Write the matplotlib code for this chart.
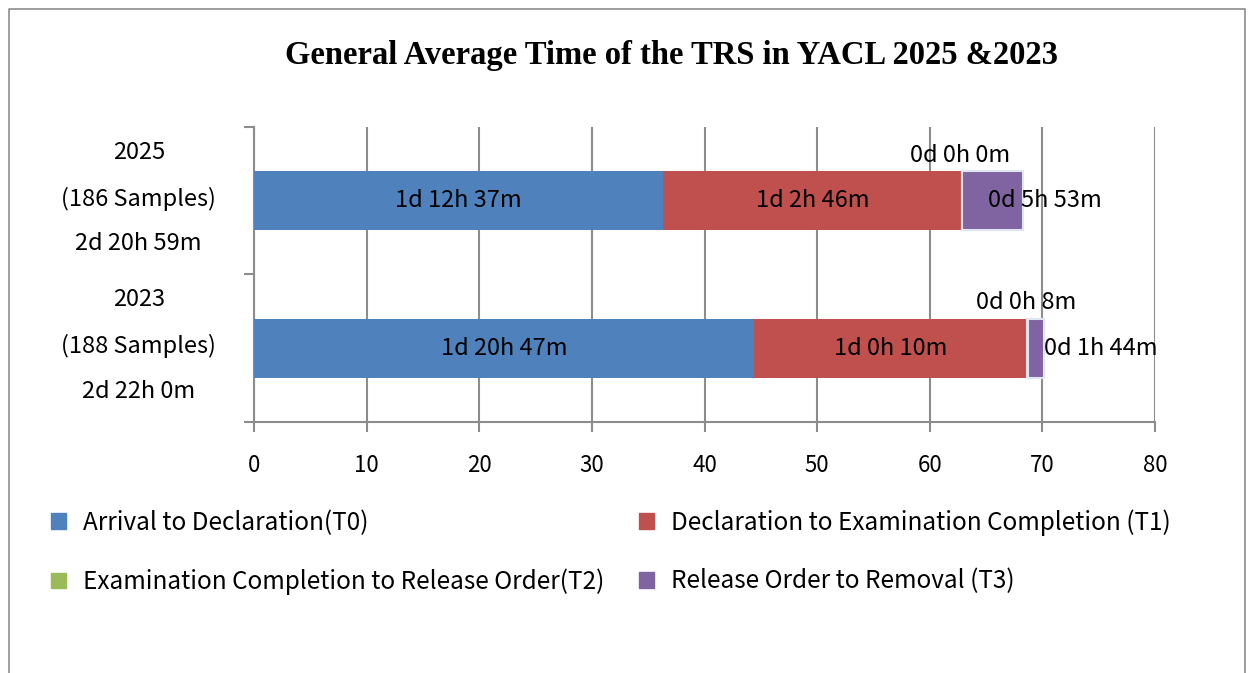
"""General average time of the TRS in YACL, stacked by stage."""

import matplotlib.pyplot as plt
from matplotlib.patches import Patch

years = ["2023", "2025"]
year_labels = ["2023\n(188 Samples)\n2d 22h 0m", "2025\n(186 Samples)\n2d 20h 59m"]
stages = [
    "Arrival to Declaration(T0)",
    "Declaration to Examination Completion (T1)",
    "Examination Completion to Release Order(T2)",
    "Release Order to Removal (T3)",
]
# hours per stage, 2023 first then 2025
t0 = [44.4, 36.3]
t1 = [24.2, 26.6]
t2 = [0.13, 0.0]
t3 = [1.4, 5.4]
labels_t0 = ["1d 20h 47m", "1d 12h 37m"]
labels_t1 = ["1d 0h 10m", "1d 2h 46m"]
labels_t2 = ["0d 0h 8m", "0d 0h 0m"]
labels_t3 = ["0d 1h 44m", "0d 5h 53m"]

colors = ["#4F81BD", "#C0504D", "#9BBB59", "#8064A2"]
plt.rcParams["font.family"] = ["Noto Sans CJK JP", "DejaVu Sans"]

fig = plt.figure(figsize=(12.52, 6.73), dpi=100)
ax = fig.add_axes([0.2029, 0.373, 0.7196, 0.4383])

ypos = [0, 1]
series = [t0, t1, t2, t3]
left = [0.0, 0.0]
for i, vals in enumerate(series):
    edge = "#dfe6f2" if i >= 2 else colors[i]
    ax.barh(ypos, vals, left=left, height=0.4, color=colors[i],
            edgecolor=edge, linewidth=1.5 if i >= 2 else 0, zorder=3)
    left = [a + b for a, b in zip(left, vals)]

fs = 17
for k, y in enumerate(ypos):
    ax.text(t0[k] / 2, y, labels_t0[k], ha="center", va="center", fontsize=fs, zorder=4)
    ax.text(t0[k] + t1[k] / 2, y, labels_t1[k], ha="center", va="center", fontsize=fs, zorder=4)
    end2 = t0[k] + t1[k] + t2[k]
    ax.text(end2 - 0.2, y + 0.31, labels_t2[k], ha="center", va="center", fontsize=fs, zorder=4)
end_2025 = t0[1] + t1[1] + t2[1]
ax.text(end_2025 + t3[1] * 0.42, 1, labels_t3[1], ha="left", va="center", fontsize=fs, zorder=4)
end_2023 = t0[0] + t1[0] + t2[0] + t3[0]
ax.text(end_2023, 0, labels_t3[0], ha="left", va="center", fontsize=fs, zorder=4)

ax.set_xlim(0, 80)
ax.set_ylim(-0.5, 1.5)
ax.set_xticks(range(0, 81, 10))
ax.tick_params(axis="x", labelsize=16, length=7, width=1.5, color="#8c8c8c", pad=16)
ax.set_yticks([-0.5, 0.5, 1.5])
ax.set_yticklabels([])
ax.tick_params(axis="y", length=7, width=1.5, color="#8c8c8c")
# category labels sit a little above the bar centres
ax.set_yticks([y + 0.11 for y in ypos], minor=True)
ax.set_yticklabels(year_labels, minor=True, fontsize=17, linespacing=2.2, ha="center")
ax.tick_params(axis="y", which="minor", length=0, pad=83)
ax.grid(True, axis="x", color="#8c8c8c", linewidth=1.5, zorder=0)
for side in ["top", "right"]:
    ax.spines[side].set_visible(False)
for side in ["left", "bottom"]:
    ax.spines[side].set_color("#8c8c8c")
    ax.spines[side].set_linewidth(1.5)

fig.text(0.536, 0.918, "General Average Time of the TRS in YACL 2025 &2023",
         ha="center", va="center", fontsize=23.5, fontweight="bold", family="Liberation Serif")

handles = [Patch(color=c) for c in colors]
order = [0, 2, 1, 3]
fig.legend([handles[i] for i in order], [stages[i] for i in order], ncol=2,
           loc="upper left", bbox_to_anchor=(0.0236, 0.276), frameon=False,
           fontsize=17.5, handlelength=0.6, handleheight=0.6, handletextpad=0.7,
           labelspacing=1.35, columnspacing=1.43)

# outer frame, open at the bottom
fx0, fx1, fy1 = 9 / 1252, 1245 / 1252, 1 - 9 / 673
fig.add_artist(plt.Line2D([fx0, fx0, fx1, fx1], [0, fy1, fy1, 0], color="#8c8c8c",
                          linewidth=1.2, transform=fig.transFigure))

fig.savefig("out.png", dpi=100)
